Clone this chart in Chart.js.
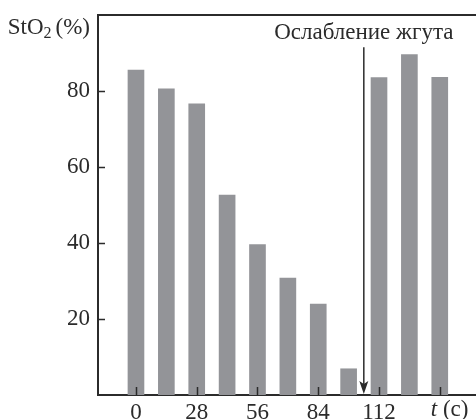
<!DOCTYPE html>
<html>
<head>
<meta charset="utf-8">
<script src="https://cdn.jsdelivr.net/npm/chart.js@4/dist/chart.umd.min.js"></script>
<style>
  html, body { margin: 0; padding: 0; background: #fff; }
  #wrap { width: 476px; height: 419px; }
</style>
</head>
<body>
<div id="wrap"><canvas id="chart"></canvas></div>
<script>
// time points (s) and StO2 readings (%)
const times = [0, 14, 28, 42, 56, 70, 84, 98, 112, 126, 140];
const stO2 = [85.5, 80.6, 76.6, 52.6, 39.6, 30.8, 23.9, 6.9, 83.5, 89.6, 83.6];
const xTicks = [0, 28, 56, 84, 112, 140];
const yTicks = [20, 40, 60, 80];
const releaseTime = 105;      // tourniquet released
const releaseArrowTop = 91.5;
const releaseLabel = 'Ослабление жгута';

const serif = '"Liberation Serif", "DejaVu Serif", serif';
const ink = '#2b2b2b';
const fontSize = 23;

const decorations = {
  id: 'decorations',
  afterDraw(chart) {
    const { ctx, chartArea: a, scales: { x, y } } = chart;
    ctx.save();
    ctx.strokeStyle = ink;
    ctx.fillStyle = ink;

    // top frame line
    ctx.lineWidth = 2;
    ctx.beginPath();
    ctx.moveTo(a.left - 1, a.top);
    ctx.lineTo(a.right, a.top);
    ctx.stroke();

    // inward tick marks
    ctx.lineWidth = 1.5;
    ctx.beginPath();
    yTicks.forEach(v => {
      const py = Math.round(y.getPixelForValue(v)) + 0.5;
      ctx.moveTo(a.left, py);
      ctx.lineTo(a.left + 7, py);
    });
    xTicks.forEach(v => {
      const px = Math.round(x.getPixelForValue(v)) + 0.5;
      ctx.moveTo(px, a.bottom);
      ctx.lineTo(px, a.bottom - 8);
    });
    ctx.stroke();

    // release arrow
    const ax = x.getPixelForValue(releaseTime);
    const tip = y.getPixelForValue(0) - 1;
    ctx.lineWidth = 1.5;
    ctx.beginPath();
    ctx.moveTo(ax, y.getPixelForValue(releaseArrowTop));
    ctx.lineTo(ax, tip - 10);
    ctx.stroke();
    ctx.beginPath();
    ctx.moveTo(ax, tip);
    ctx.lineTo(ax - 4.5, tip - 13);
    ctx.lineTo(ax, tip - 10);
    ctx.lineTo(ax + 4.5, tip - 13);
    ctx.closePath();
    ctx.fill();

    ctx.font = fontSize + 'px ' + serif;
    ctx.textAlign = 'center';
    ctx.textBaseline = 'alphabetic';
    ctx.fillText(releaseLabel, ax, 39);

    // y title: StO2 (%), right edge lined up with the tick labels
    ctx.textAlign = 'left';
    const big = fontSize + 'px ' + serif;
    const small = Math.round(fontSize * 0.68) + 'px ' + serif;
    ctx.font = big;
    const w1 = ctx.measureText('StO').width;
    const w3 = ctx.measureText('(%)').width;
    ctx.font = small;
    const w2 = ctx.measureText('2').width;
    let tx = 90 - (w1 + w2 + 4 + w3);
    ctx.font = big;
    ctx.fillText('StO', tx, 34);
    tx += w1;
    ctx.font = small;
    ctx.fillText('2', tx, 38);
    tx += w2 + 4;
    ctx.font = big;
    ctx.fillText('(%)', tx, 34);

    // x unit label in place of the last tick
    const lx = x.getPixelForValue(140) - 9;
    const ly = a.bottom + 21;
    ctx.font = 'italic ' + big;
    ctx.fillText('t', lx, ly);
    const tw = ctx.measureText('t ').width;
    ctx.font = big;
    ctx.fillText('(c)', lx + tw, ly);
    ctx.restore();
  }
};

new Chart(document.getElementById('chart'), {
  type: 'bar',
  data: {
    datasets: [{
      data: times.map((t, i) => ({ x: t, y: stO2[i] })),
      backgroundColor: '#939498',
      borderWidth: 0,
      barThickness: 16
    }]
  },
  options: {
    responsive: true,
    maintainAspectRatio: false,
    animation: false,
    layout: { padding: { top: 15, right: 0, left: 0, bottom: 0 } },
    plugins: { legend: { display: false }, tooltip: { enabled: false } },
    scales: {
      x: {
        type: 'linear',
        offset: false,
        min: -17.5,
        max: 156.7,
        grid: { display: false, offset: false },
        border: { display: true, color: ink, width: 2 },
        afterBuildTicks: s => { s.ticks = xTicks.map(v => ({ value: v })); },
        afterFit: s => { s.height = 24; },
        ticks: {
          color: ink,
          padding: -4,
          maxRotation: 0,
          font: { family: serif, size: fontSize },
          callback: v => (v === 140 ? '' : String(v))
        }
      },
      y: {
        min: 0,
        max: 100,
        grid: { display: false },
        border: { display: true, color: ink, width: 2 },
        afterBuildTicks: s => { s.ticks = yTicks.map(v => ({ value: v })); },
        afterFit: s => { s.width = 98; },
        ticks: {
          color: ink,
          padding: 0,
          font: { family: serif, size: fontSize }
        }
      }
    }
  },
  plugins: [decorations]
});
</script>
</body>
</html>
